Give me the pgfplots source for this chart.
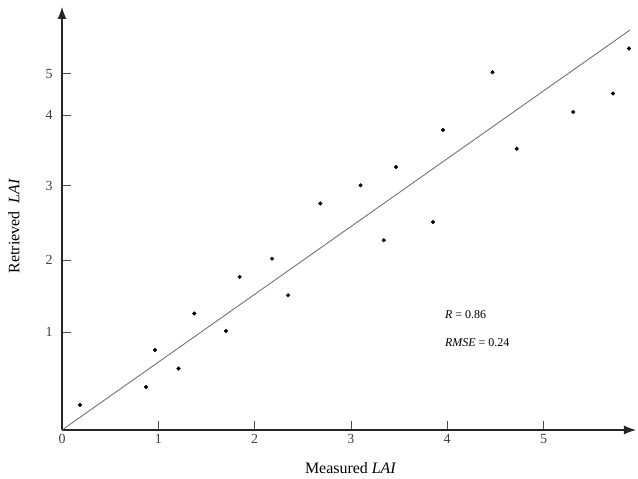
\documentclass[border=0pt]{standalone}
\usepackage{pgfplots}
\pgfplotsset{compat=1.18}
\usepackage{fontspec}
\setmainfont{Liberation Serif}
\usetikzlibrary{arrows.meta}
\begin{document}
\begin{tikzpicture}
\begin{axis}[
  at={(0,0)}, anchor=south west,
  x=96.3bp, y=73bp,
  xmin=0, xmax=5.96, ymin=0, ymax=5.795,
  axis lines=left,
  axis line style={-{Latex[length=12bp,width=9bp]}, line width=1.1bp, black!85},
  xtick={0,1,2,3,4,5},
  ytick={1.342,2.329,3.347,4.315,4.881},
  yticklabels={1,2,3,4,5},
  tick align=inside,
  major tick length=9bp,
  tick style={line width=0.8bp, black!70},
  /pgf/number format/assume math mode=true,
  ticklabel style={font=\fontsize{14}{16}\selectfont, text=black!75},
  yticklabel style={xshift=-6bp},
  xticklabel style={yshift=-1bp},
  xlabel={Measured \textit{LAI}},
  ylabel={Retrieved\ \ \textit{LAI}},
  label style={font=\fontsize{16}{18}\selectfont},
  xlabel style={at={(axis description cs:0.503,-0.0898)}, anchor=center},
  ylabel style={at={(axis description cs:-0.0836,0.482)}, anchor=center},
  clip=false,
]
\addplot[gray!90!black, line width=0.9bp] coordinates {(0,0) (5.898,5.479)};
\addplot[only marks, mark=*, mark size=1.8bp, black] coordinates {
(0.187,0.342) (0.872,0.589) (0.966,1.096) (1.210,0.842) (1.374,1.596)
(1.703,1.356) (1.845,2.096) (2.181,2.347) (2.347,1.845) (2.682,3.103)
(3.100,3.352) (3.341,2.599) (3.468,3.603) (3.853,2.849) (3.956,4.110)
(4.470,4.900) (4.722,3.853) (5.309,4.356) (5.722,4.610) (5.888,5.226)
};
\node[anchor=west, font=\fontsize{12}{14}\selectfont, inner sep=0pt] at (axis cs:3.977,1.575) {\textit{R} = 0.86};
\node[anchor=west, font=\fontsize{12}{14}\selectfont, inner sep=0pt] at (axis cs:3.977,1.192) {\textit{RMSE} = 0.24};
\end{axis}
\pgfresetboundingbox
\path[use as bounding box] (-62bp,-49bp) rectangle (576bp,430bp);
\end{tikzpicture}
\end{document}
